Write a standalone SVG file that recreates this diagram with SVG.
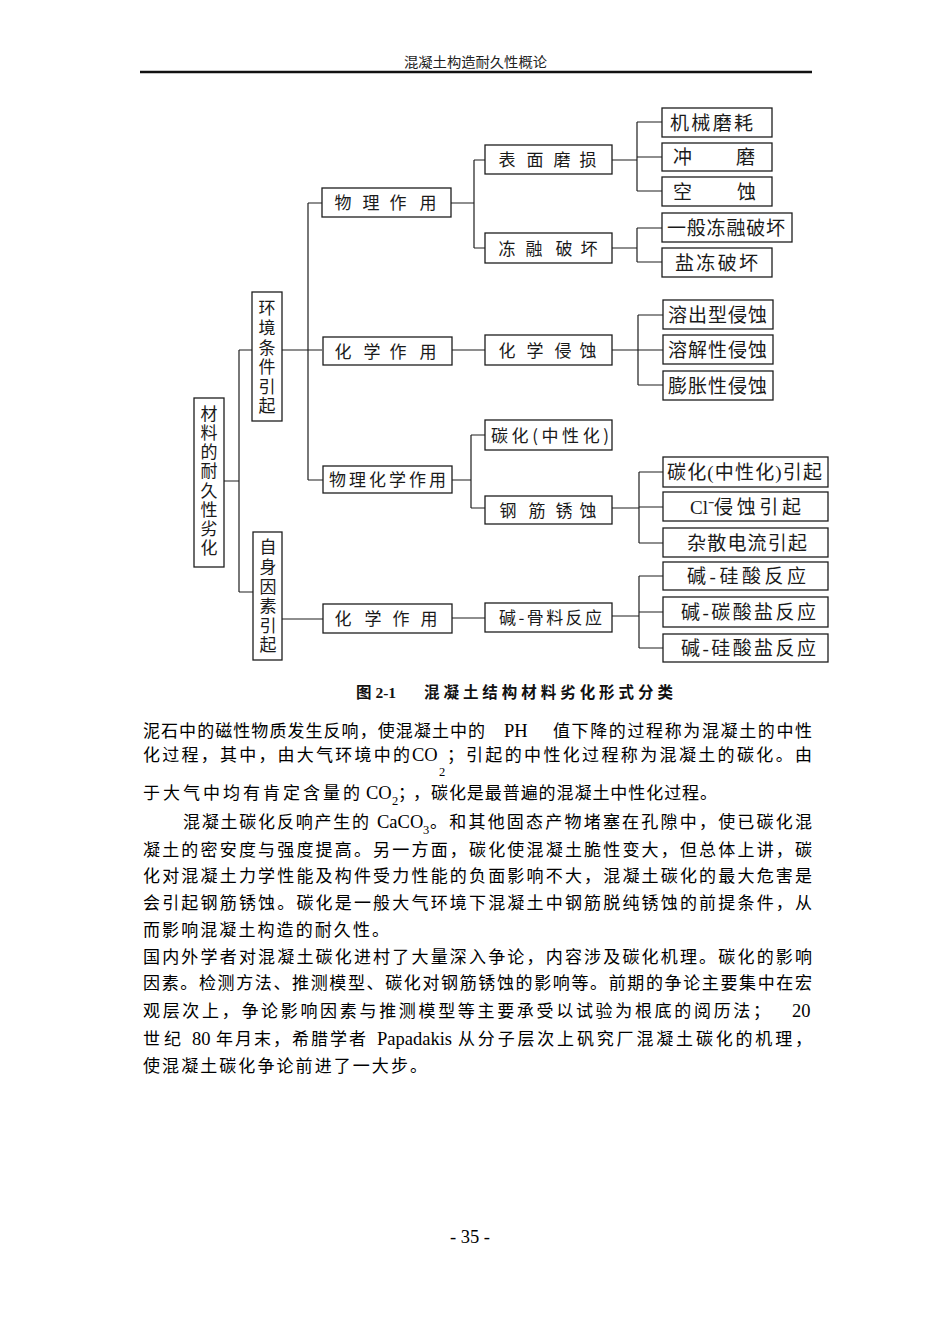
<svg xmlns="http://www.w3.org/2000/svg" width="950" height="1344" viewBox="0 0 950 1344">
<style>
.bx{fill:#fff;stroke:#1e1e1e;stroke-width:1.3}
.ln{fill:none;stroke:#1e1e1e;stroke-width:1.2}
.lb{font-family:"Noto Sans CJK SC","Noto Sans",sans-serif;font-size:17px;fill:#1a1a1a}
.vt{writing-mode:vertical-rl}
.lb4{font-family:"Liberation Serif","Noto Sans CJK SC",serif;font-size:19px;fill:#1a1a1a}
.body{font-family:"Liberation Serif","Noto Sans CJK SC",serif;font-size:17px;fill:#000}
.lat{font-family:"Liberation Serif",serif;font-size:18.5px;fill:#000}
.sub{font-family:"Liberation Serif",serif;font-size:12.5px;fill:#000}
.hd{font-family:"Noto Sans CJK SC",sans-serif;font-size:13.5px;fill:#222}
.cap{font-family:"Liberation Serif","Noto Sans CJK SC",serif;font-size:15.5px;font-weight:bold;fill:#111}
</style>
<rect width="950" height="1344" fill="#fff"/>

<g id="header">
<text class="hd" x="404" y="67" textLength="143" lengthAdjust="spacingAndGlyphs">混凝土构造耐久性概论</text>
<line x1="140" y1="72" x2="812" y2="72" stroke="#111" stroke-width="2.6"/>
</g>

<g id="connectors">
<path class="ln" d="M224,481 H239 M239,350 V592 M239,350 H252 M239,592 H253
M282,350 H322 M308,203 V480 M308,203 H322 M308,480 H323
M282,619 H323
M451,203 H474 M474,160 V248 M474,160 H485 M474,248 H485
M452,350 H485
M452,480 H471 M471,435 V508 M471,435 H485 M471,508 H485
M452,618 H485
M612,160 H637 M637,122 V191 M637,122 H662 M637,157 H662 M637,191 H662
M612,248 H637 M637,228 V262 M637,228 H662 M637,262 H662
M612,350 H638 M638,315 V385 M638,315 H663 M638,350 H663 M638,385 H663
M612,508 H639 M639,472 V543 M639,472 H663 M639,507 H663 M639,543 H663
M612,616 H639 M639,576 V648 M639,576 H663 M639,612 H663 M639,648 H663"/>
</g>

<g id="n-root">
<rect class="bx" x="194" y="398" width="30" height="169"/>
<text class="lb vt" x="209" y="405" textLength="151" lengthAdjust="spacing">材料的耐久性劣化</text>
</g>

<g id="n-env">
<rect class="bx" x="252" y="292" width="30" height="129"/>
<text class="lb vt" x="267" y="299.5" textLength="115" lengthAdjust="spacing">环境条件引起</text>
</g>

<g id="n-self">
<rect class="bx" x="253" y="532" width="29" height="128"/>
<text class="lb vt" x="268" y="538.5" textLength="115" lengthAdjust="spacing">自身因素引起</text>
</g>

<g id="n-phys">
<rect class="bx" x="322" y="188" width="129" height="29"/>
<text class="lb" x="334.5 362.5 389.5 419.5" y="209">物理作用</text>
</g>
<g id="n-chem1">
<rect class="bx" x="323" y="337" width="129" height="28"/>
<text class="lb" x="334.5 363.5 389.5 419.5" y="357.5">化学作用</text>
</g>
<g id="n-physchem">
<rect class="bx" x="323" y="466" width="129" height="27"/>
<text class="lb" x="329" y="486" textLength="117" lengthAdjust="spacing">物理化学作用</text>
</g>
<g id="n-chem2">
<rect class="bx" x="323" y="604" width="129" height="29"/>
<text class="lb" x="334.5 364.5 392.5 420.5" y="625">化学作用</text>
</g>

<g id="n-surface">
<rect class="bx" x="485" y="145" width="127" height="29"/>
<text class="lb" x="498.5 526.5 553.5 579.5" y="166">表面磨损</text>
</g>
<g id="n-freeze">
<rect class="bx" x="485" y="233" width="127" height="30"/>
<text class="lb" x="498.5 525.5 555.5 580.5" y="254.5">冻融破坏</text>
</g>
<g id="n-chemero">
<rect class="bx" x="485" y="335" width="127" height="30"/>
<text class="lb" x="498.5 526.5 554.5 579.5" y="356.5">化学侵蚀</text>
</g>
<g id="n-carb">
<rect class="bx" x="485" y="420" width="127" height="30"/>
<text class="lb" x="491" y="441.5" textLength="118" lengthAdjust="spacing">碳化(中性化)</text>
</g>
<g id="n-rebar">
<rect class="bx" x="485" y="496" width="127" height="28"/>
<text class="lb" x="499.5 528.5 555.5 579.5" y="516.5">钢筋锈蚀</text>
</g>
<g id="n-asr">
<rect class="bx" x="485" y="603" width="127" height="29"/>
<text class="lb" x="499" y="624" textLength="103" lengthAdjust="spacing">碱-骨料反应</text>
</g>

<g id="n-mech">
<rect class="bx" x="662" y="108" width="110" height="29"/>
<text class="lb4" x="670" y="129.5" textLength="83" lengthAdjust="spacing">机械磨耗</text>
</g>
<g id="n-impact">
<rect class="bx" x="662" y="143" width="110" height="28"/>
<text class="lb4" x="673 736" y="164">冲磨</text>
</g>
<g id="n-cav">
<rect class="bx" x="662" y="177" width="110" height="29"/>
<text class="lb4" x="673 737" y="198.5">空蚀</text>
</g>
<g id="n-genfreeze">
<rect class="bx" x="662" y="213" width="130" height="29"/>
<text class="lb4" x="667" y="234.5" textLength="118" lengthAdjust="spacing">一般冻融破坏</text>
</g>
<g id="n-saltfreeze">
<rect class="bx" x="662" y="248" width="110" height="29"/>
<text class="lb4" x="675" y="269.5" textLength="83" lengthAdjust="spacing">盐冻破坏</text>
</g>
<g id="n-leach">
<rect class="bx" x="663" y="300" width="110" height="29"/>
<text class="lb4" x="668" y="321.5" textLength="99" lengthAdjust="spacing">溶出型侵蚀</text>
</g>
<g id="n-dissolve">
<rect class="bx" x="663" y="335" width="110" height="29"/>
<text class="lb4" x="668" y="356.5" textLength="99" lengthAdjust="spacing">溶解性侵蚀</text>
</g>
<g id="n-expand">
<rect class="bx" x="663" y="371" width="110" height="29"/>
<text class="lb4" x="668" y="392.5" textLength="99" lengthAdjust="spacing">膨胀性侵蚀</text>
</g>
<g id="n-carbcause">
<rect class="bx" x="663" y="457" width="165" height="30"/>
<text class="lb4" x="667" y="479" textLength="155" lengthAdjust="spacing">碳化(中性化)引起</text>
</g>
<g id="n-cl">
<rect class="bx" x="663" y="492" width="165" height="29"/>
<text class="lb4" y="513.5"><tspan x="690">Cl⁻</tspan><tspan x="714" textLength="87" lengthAdjust="spacing">侵蚀引起</tspan></text>
</g>
<g id="n-stray">
<rect class="bx" x="663" y="528" width="165" height="29"/>
<text class="lb4" x="687" y="549.5" textLength="120" lengthAdjust="spacing">杂散电流引起</text>
</g>
<g id="n-asr1">
<rect class="bx" x="663" y="562" width="165" height="28"/>
<text class="lb4" x="687" y="583" textLength="119" lengthAdjust="spacing">碱-硅酸反应</text>
</g>
<g id="n-acr">
<rect class="bx" x="663" y="597" width="165" height="30"/>
<text class="lb4" x="681" y="619" textLength="135" lengthAdjust="spacing">碱-碳酸盐反应</text>
</g>
<g id="n-asr2">
<rect class="bx" x="663" y="634" width="165" height="28"/>
<text class="lb4" x="681" y="655" textLength="135" lengthAdjust="spacing">碱-硅酸盐反应</text>
</g>

<g id="caption">
<text class="cap" x="356" y="697.5">图 2-1</text>
<text class="cap" x="424" y="697.5" textLength="249" lengthAdjust="spacing">混凝土结构材料劣化形式分类</text>
</g>

<g id="body">
<text class="body" x="143" y="737" textLength="342" lengthAdjust="spacing">泥石中的磁性物质发生反响，使混凝土中的</text>
<text class="lat" x="504" y="737">PH</text>
<text class="body" x="553" y="737" textLength="259" lengthAdjust="spacing">值下降的过程称为混凝土的中性</text>

<text class="body" x="143" y="761" textLength="267" lengthAdjust="spacing">化过程，其中，由大气环境中的</text>
<text class="lat" x="412" y="761">CO</text>
<text class="sub" x="439" y="776">2</text>
<text class="body" x="447" y="761">；</text>
<text class="body" x="466" y="761" textLength="346" lengthAdjust="spacing">引起的中性化过程称为混凝土的碳化。由</text>

<text class="body" x="143" y="799" textLength="217" lengthAdjust="spacing">于大气中均有肯定含量的</text>
<text class="lat" x="366" y="799">CO</text>
<text class="sub" x="392" y="805">2</text>
<text class="body" x="398" y="799" textLength="32" lengthAdjust="spacing">；，</text>
<text class="body" x="431" y="799" textLength="286" lengthAdjust="spacing">碳化是最普遍的混凝土中性化过程。</text>

<text class="body" x="183" y="828" textLength="186" lengthAdjust="spacing">混凝土碳化反响产生的</text>
<text class="lat" x="377" y="828">CaCO</text>
<text class="sub" x="423" y="834">3</text>
<text class="body" x="430" y="828" textLength="382" lengthAdjust="spacing">。和其他固态产物堵塞在孔隙中，使已碳化混</text>

<text class="body" x="143" y="856" textLength="669" lengthAdjust="spacing">凝土的密安度与强度提高。另一方面，碳化使混凝土脆性变大，但总体上讲，碳</text>
<text class="body" x="143" y="882" textLength="669" lengthAdjust="spacing">化对混凝土力学性能及构件受力性能的负面影响不大，混凝土碳化的最大危害是</text>
<text class="body" x="143" y="909" textLength="669" lengthAdjust="spacing">会引起钢筋锈蚀。碳化是一般大气环境下混凝土中钢筋脱纯锈蚀的前提条件，从</text>
<text class="body" x="143" y="936" textLength="246" lengthAdjust="spacing">而影响混凝土构造的耐久性。</text>
<text class="body" x="143" y="963" textLength="669" lengthAdjust="spacing">国内外学者对混凝土碳化进村了大量深入争论，内容涉及碳化机理。碳化的影响</text>
<text class="body" x="143" y="989" textLength="669" lengthAdjust="spacing">因素。检测方法、推测模型、碳化对钢筋锈蚀的影响等。前期的争论主要集中在宏</text>
<text class="body" x="143" y="1017" textLength="627" lengthAdjust="spacing">观层次上，争论影响因素与推测模型等主要承受以试验为根底的阅历法；</text>
<text class="lat" x="792" y="1017">20</text>
<text class="body" x="143" y="1045" textLength="38" lengthAdjust="spacing">世纪</text>
<text class="lat" x="192" y="1045">80</text>
<text class="body" x="216" y="1045" textLength="150" lengthAdjust="spacing">年月末，希腊学者</text>
<text class="lat" x="377" y="1045">Papadakis</text>
<text class="body" x="458" y="1045" textLength="354" lengthAdjust="spacing">从分子层次上矾究厂混凝土碳化的机理，</text>
<text class="body" x="143" y="1072" textLength="284" lengthAdjust="spacing">使混凝土碳化争论前进了一大步。</text>
</g>

<g id="footer">
<text class="lat" x="470" y="1243" text-anchor="middle" font-size="16">- 35 -</text>
</g>
</svg>
